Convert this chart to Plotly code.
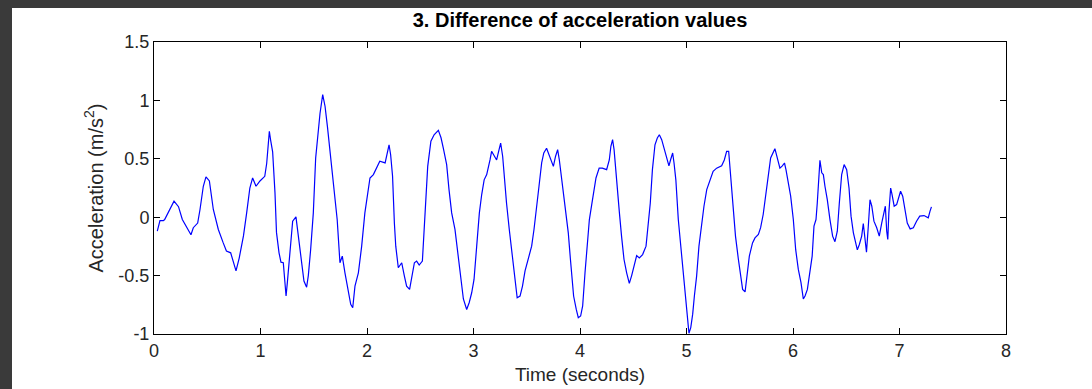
import plotly.graph_objects as go

time_s = [0.031, 0.056, 0.088, 0.10, 0.188, 0.23, 0.266, 0.307, 0.347, 0.369, 0.41, 0.432, 0.463, 0.488, 0.52,
          0.557, 0.604, 0.65, 0.68, 0.72, 0.745, 0.77, 0.80, 0.84, 0.87, 0.90, 0.926, 0.958, 0.995, 1.04,
          1.058, 1.074, 1.083, 1.095, 1.114, 1.136, 1.15, 1.174, 1.192, 1.214, 1.227, 1.24, 1.252, 1.277,
          1.302, 1.333, 1.355, 1.387, 1.408, 1.433, 1.449, 1.471, 1.496, 1.518, 1.537, 1.559, 1.584, 1.606,
          1.628, 1.653, 1.69, 1.72, 1.746, 1.768, 1.793, 1.825, 1.847, 1.866, 1.887, 1.919, 1.95, 1.98,
          2.0, 2.028, 2.06, 2.09, 2.12, 2.17, 2.19, 2.207, 2.222, 2.24, 2.257, 2.27, 2.294, 2.326, 2.35,
          2.372, 2.40, 2.42, 2.445, 2.466, 2.49, 2.52, 2.545, 2.57, 2.60, 2.63, 2.67, 2.695, 2.717, 2.748,
          2.77, 2.795, 2.826, 2.85, 2.873, 2.905, 2.936, 2.96, 2.983, 3.005, 3.03, 3.055, 3.077, 3.10,
          3.124, 3.14, 3.155, 3.17, 3.19, 3.217, 3.24, 3.255, 3.274, 3.286, 3.31, 3.336, 3.368, 3.39,
          3.41, 3.437, 3.46, 3.484, 3.515, 3.546, 3.568, 3.593, 3.615, 3.64, 3.66, 3.686, 3.71, 3.75,
          3.77, 3.79, 3.806, 3.83, 3.86, 3.89, 3.91, 3.94, 3.965, 3.984, 4.006, 4.025, 4.047, 4.07,
          4.088, 4.11, 4.13, 4.15, 4.18, 4.21, 4.25, 4.275, 4.29, 4.306, 4.32, 4.344, 4.37, 4.39, 4.413,
          4.438, 4.463, 4.485, 4.51, 4.532, 4.557, 4.588, 4.62, 4.64, 4.66, 4.68, 4.704, 4.726, 4.745,
          4.767, 4.79, 4.81, 4.835, 4.85, 4.87, 4.883, 4.90, 4.923, 4.945, 4.97, 4.99, 5.008, 5.023,
          5.04, 5.058, 5.074, 5.095, 5.117, 5.142, 5.164, 5.19, 5.22, 5.25, 5.283, 5.33, 5.355, 5.377,
          5.396, 5.415, 5.44, 5.46, 5.487, 5.51, 5.527, 5.55, 5.565, 5.59, 5.62, 5.643, 5.675, 5.696,
          5.72, 5.746, 5.77, 5.79, 5.83, 5.852, 5.877, 5.90, 5.92, 5.934, 5.956, 5.978, 6.003, 6.025,
          6.05, 6.075, 6.097, 6.113, 6.135, 6.16, 6.18, 6.197, 6.216, 6.228, 6.24, 6.253, 6.27, 6.285,
          6.30, 6.322, 6.347, 6.372, 6.394, 6.416, 6.435, 6.457, 6.48, 6.504, 6.526, 6.545, 6.567, 6.588,
          6.604, 6.623, 6.645, 6.66, 6.676, 6.69, 6.707, 6.723, 6.74, 6.76, 6.786, 6.81, 6.833, 6.855,
          6.867, 6.88, 6.89, 6.90, 6.917, 6.93, 6.95, 6.973, 6.995, 7.01, 7.03, 7.05, 7.073, 7.10, 7.13,
          7.16, 7.19, 7.23, 7.27, 7.286, 7.30]

accel = [-0.12, -0.03, -0.03, -0.02, 0.137, 0.09, -0.02, -0.08, -0.15, -0.09, -0.05, 0.066, 0.265, 0.345, 0.31,
         0.066, -0.105, -0.22, -0.29, -0.305, -0.39, -0.46, -0.35, -0.16, 0.037, 0.25, 0.336, 0.265, 0.31, 0.35,
         0.46, 0.65, 0.735, 0.66, 0.56, 0.21, -0.13, -0.305, -0.385, -0.39, -0.53, -0.675, -0.56, -0.276,
         -0.034, 0.003, -0.16, -0.42, -0.547, -0.60, -0.50, -0.276, 0.037, 0.507, 0.69, 0.89, 1.05, 0.95,
         0.78, 0.55, 0.25, -0.02, -0.39, -0.333, -0.476, -0.647, -0.746, -0.775, -0.59, -0.476, -0.248, 0.037,
         0.18, 0.336, 0.365, 0.42, 0.48, 0.465, 0.56, 0.62, 0.535, 0.35, -0.05, -0.248, -0.433, -0.39, -0.50,
         -0.59, -0.618, -0.50, -0.39, -0.376, -0.41, -0.376, 0.037, 0.435, 0.65, 0.706, 0.744, 0.68, 0.59, 0.45,
         0.236, 0.037, -0.105, -0.276, -0.476, -0.70, -0.79, -0.73, -0.647, -0.533, -0.248, 0.037, 0.194, 0.32,
         0.365, 0.42, 0.49, 0.564, 0.535, 0.49, 0.578, 0.635, 0.52, 0.38, 0.122, -0.105, -0.36, -0.533,
         -0.69, -0.675, -0.59, -0.46, -0.36, -0.248, -0.105, 0.066, 0.265, 0.465, 0.55, 0.59, 0.535, 0.435,
         0.52, 0.578, 0.49, 0.32, 0.094, -0.134, -0.36, -0.675, -0.79, -0.86, -0.846, -0.76, -0.476, -0.22,
         -0.02, 0.108, 0.236, 0.336, 0.42, 0.42, 0.407, 0.49, 0.607, 0.664, 0.578, 0.293, 0.037, -0.162, -0.36,
         -0.476, -0.567, -0.50, -0.404, -0.328, -0.348, -0.32, -0.248, -0.077, 0.122, 0.407, 0.62, 0.678, 0.706,
         0.664, 0.59, 0.507, 0.44, 0.49, 0.55, 0.464, 0.32, -0.02, -0.248, -0.447, -0.675, -0.875, -0.994,
         -0.945, -0.83, -0.675, -0.504, -0.248, -0.05, 0.094, 0.236, 0.308, 0.393, 0.42, 0.44, 0.49, 0.564,
         0.564, 0.35, 0.094, -0.162, -0.36, -0.533, -0.618, -0.64, -0.504, -0.333, -0.22, -0.177, -0.148, -0.09,
         0.023, 0.208, 0.407, 0.507, 0.587, 0.507, 0.42, 0.44, 0.464, 0.407, 0.293, 0.18, -0.02, -0.276,
         -0.447, -0.56, -0.70, -0.675, -0.618, -0.476, -0.333, -0.077, -0.02, 0.122, 0.365, 0.487, 0.38, 0.365,
         0.265, 0.15, -0.02, -0.162, -0.21, -0.12, 0.122, 0.365, 0.45, 0.407, 0.25, 0.009, -0.134, -0.234,
         -0.28, -0.234, -0.162, -0.054, -0.22, -0.30, -0.077, 0.15, 0.094, -0.034, -0.09, -0.162, -0.05, 0.05,
         0.094, -0.12, -0.19, 0.037, 0.25, 0.194, 0.094, 0.108, 0.165, 0.222, 0.18, 0.066, -0.05, -0.10, -0.09,
         -0.034, 0.009, 0.014, -0.006, 0.05, 0.088]

x_ticks = [0, 1, 2, 3, 4, 5, 6, 7, 8]
y_ticks = [-1, -0.5, 0, 0.5, 1, 1.5]
y_tick_labels = ["-1", "-0.5", "0", "0.5", "1", "1.5"]

W, H = 1092, 389
L, R, T, B = 154, 86, 42, 55
pw, ph = W - L - R, H - T - B

fig = go.Figure()
fig.add_trace(go.Scatter(x=time_s, y=accel, mode="lines",
                         line=dict(color="#0000ff", width=1.2), showlegend=False))

dark = "#3a3a3a"
# dark window strips (left and top)
fig.add_shape(type="rect", xref="paper", yref="paper",
              x0=-L / pw - 0.01, x1=(12 - L) / pw, y0=-B / ph - 0.01, y1=(H - B) / ph + 0.01,
              fillcolor=dark, line_width=0, layer="above")
fig.add_shape(type="rect", xref="paper", yref="paper",
              x0=-L / pw - 0.01, x1=(W - L) / pw + 0.01, y0=(H - B - 8) / ph, y1=(H - B) / ph + 0.01,
              fillcolor=dark, line_width=0, layer="above")

font_main = "Liberation Sans, Arial"
axis_common = dict(showgrid=False, zeroline=False, showline=True, linecolor="#000000",
                   linewidth=1, mirror="ticks", ticks="inside", ticklen=6, tickcolor="#000000",
                   automargin=False,
                   tickfont=dict(family=font_main, size=18, color="#262626"))

fig.update_xaxes(range=[0, 8], tickvals=x_ticks,
                 title=dict(text="Time (seconds)", font=dict(family=font_main, size=19, color="#262626"),
                            standoff=8),
                 **axis_common)
fig.update_yaxes(range=[-1, 1.5], tickvals=y_ticks, ticktext=y_tick_labels,
                 title=dict(text="Acceleration (m/s<sup>2</sup>)",
                            font=dict(family=font_main, size=20, color="#262626"),
                            standoff=9),
                 **axis_common)

fig.update_layout(
    width=W, height=H,
    margin=dict(l=L, r=R, t=T, b=B, pad=0, autoexpand=False),
    paper_bgcolor="#ffffff", plot_bgcolor="#ffffff",
    title=dict(text="<b>3. Difference of acceleration values</b>", x=(L + pw / 2) / W, xanchor="center",
               y=1 - 20 / H, yanchor="middle",
               font=dict(family=font_main, size=20, color="#000000")),
)

fig.write_html("out.html", config={"displayModeBar": False},
               post_script="document.body.style.margin='0';document.body.style.padding='0';")
